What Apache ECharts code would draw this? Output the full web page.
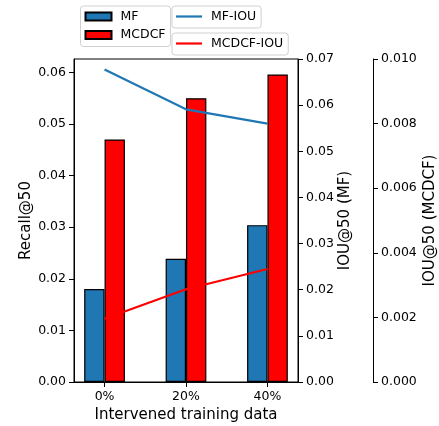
<!DOCTYPE html>
<html>
<head>
<meta charset="utf-8">
<script src="https://cdn.jsdelivr.net/npm/echarts@6/dist/echarts.min.js"></script>
<style>html,body{margin:0;padding:0;background:#fff}#c{width:439px;height:426px}</style>
</head>
<body>
<div id="c"></div>
<script>
// ---- data ----
const categories = ['0%', '20%', '40%'];
const recallMF = [0.0180, 0.0239, 0.0304];
const recallMCDCF = [0.0470, 0.0550, 0.0596];
const iouMF = [0.0677, 0.0591, 0.0560];
const iouMCDCF = [0.00196, 0.00287, 0.00350];
const leftTicks = [0, 0.01, 0.02, 0.03, 0.04, 0.05, 0.06];

const FONT = 'DejaVu Sans';
const gridLeft = 74, gridRight = 141, gridTop = 59, gridBottom = 44;
const plotW = 439 - gridLeft - gridRight;
const xMin = -0.375, xMax = 2.375;
const barW = 0.25 * plotW / (xMax - xMin);

const pts = arr => arr.map((v, i) => [i, v]);

const axisCommon = {
  axisLine: { show: true, onZero: false, lineStyle: { color: '#000', width: 1 } },
  axisTick: { show: true, length: 5, lineStyle: { color: '#000', width: 1 } },
  axisLabel: { color: '#000', fontFamily: FONT, fontSize: 12.5, margin: 8 },
  splitLine: { show: false },
  nameTextStyle: { color: '#000', fontFamily: FONT, fontSize: 15 },
  nameLocation: 'middle',
  nameMoveOverlap: false
};
const legendCommon = {
  itemWidth: 26, padding: [4, 5, 5, 4], borderColor: '#d0d0d0', borderWidth: 1, borderRadius: 3,
  icon: 'rect', textStyle: { fontFamily: FONT, fontSize: 12.5, color: '#000', padding: [0, 0, 0, 4] }
};

const chart = echarts.init(document.getElementById('c'), null, { renderer: 'canvas' });
chart.setOption({
  animation: false,
  backgroundColor: '#fff',
  grid: { left: gridLeft, right: gridRight, top: gridTop, bottom: gridBottom, outerBoundsMode: 'none',
          containLabel: false,
          show: true, borderColor: '#000', borderWidth: 1, backgroundColor: 'transparent' },
  legend: [
    Object.assign({}, legendCommon, { data: ['MF', 'MCDCF'], orient: 'vertical', left: 80.5, top: 6,
      itemHeight: 8, itemGap: 5.5 }),
    Object.assign({}, legendCommon, { data: ['MF-IOU'], left: 172, top: 6, itemHeight: 2.2 }),
    Object.assign({}, legendCommon, { data: ['MCDCF-IOU'], left: 172, top: 33, itemHeight: 2.2 })
  ],
  xAxis: Object.assign({}, axisCommon, {
    type: 'value', min: xMin, max: xMax,
    name: 'Intervened training data', nameGap: 26,
    axisTick: Object.assign({}, axisCommon.axisTick, { customValues: [0, 1, 2] }),
    axisLabel: Object.assign({}, axisCommon.axisLabel, { customValues: [0, 1, 2],
      formatter: v => categories[Math.round(v)] })
  }),
  yAxis: [
    Object.assign({}, axisCommon, {
      type: 'value', position: 'left', min: 0, max: 0.0626,
      name: 'Recall@50', nameGap: 40, nameRotate: 90,
      axisTick: Object.assign({}, axisCommon.axisTick, { customValues: leftTicks }),
      axisLabel: Object.assign({}, axisCommon.axisLabel, { customValues: leftTicks,
        formatter: v => v.toFixed(2) })
    }),
    Object.assign({}, axisCommon, {
      type: 'value', position: 'right', min: 0, max: 0.07, interval: 0.01,
      name: 'IOU@50 (MF)', nameGap: 40, nameRotate: 90,
      axisLabel: Object.assign({}, axisCommon.axisLabel, { formatter: v => v.toFixed(2) })
    }),
    Object.assign({}, axisCommon, {
      type: 'value', position: 'right', offset: 75, min: 0, max: 0.010, interval: 0.002,
      name: 'IOU@50 (MCDCF)', nameGap: 50, nameRotate: 90,
      axisLabel: Object.assign({}, axisCommon.axisLabel, { formatter: v => v.toFixed(3) })
    })
  ],
  series: [
    { name: 'MF', type: 'bar', yAxisIndex: 0, data: pts(recallMF), barWidth: barW, barGap: '0%',
      itemStyle: { color: '#1f77b4', borderColor: '#000', borderWidth: 1.2 }, z: 2 },
    { name: 'MCDCF', type: 'bar', yAxisIndex: 0, data: pts(recallMCDCF), barWidth: barW, barGap: '0%',
      itemStyle: { color: '#ff0000', borderColor: '#000', borderWidth: 1.2 }, z: 2 },
    { name: 'MF-IOU', type: 'line', yAxisIndex: 1, data: pts(iouMF), symbol: 'none',
      lineStyle: { color: '#1f77b4', width: 2.2 }, itemStyle: { color: '#1f77b4' }, z: 5 },
    { name: 'MCDCF-IOU', type: 'line', yAxisIndex: 2, data: pts(iouMCDCF), symbol: 'none',
      lineStyle: { color: '#ff0000', width: 2.2 }, itemStyle: { color: '#ff0000' }, z: 5 }
  ]
});
</script>
</body>
</html>
